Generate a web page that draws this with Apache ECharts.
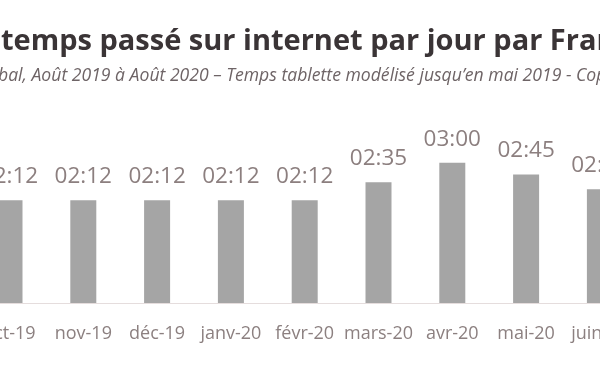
<!DOCTYPE html>
<html>
<head>
<meta charset="utf-8">
<script src="https://cdn.jsdelivr.net/npm/echarts@6/dist/echarts.min.js"></script>
<style>html,body{margin:0;padding:0;background:#fff}#c{width:600px;height:372px}</style>
</head>
<body>
<div id="c"></div>
<script>
// Visible months (the reference is a cropped view of a wider chart)
const categories = ['oct-19','nov-19','déc-19','janv-20','févr-20','mars-20','avr-20','mai-20','juin-20'];
// Daily time online, in minutes
const minutesPerDay = [132, 132, 132, 132, 132, 155, 180, 165, 146];
const titleText = 'temps passé sur internet par jour par Français';
const subtitleText = 'Global, Août 2019 à Août 2020 – Temps tablette modélisé jusqu’en mai 2019 - Copyright Médiamétrie';
const subtitleHiddenPrefix = 'Glo';

function fmt(m){const h=Math.floor(m/60),mm=Math.round(m%60);return String(h).padStart(2,'0')+':'+String(mm).padStart(2,'0');}
const FONT='"Open Sans", "Noto Sans", sans-serif';
const subFont='italic 17.6px '+FONT;
const ctx=document.createElement('canvas').getContext('2d');
ctx.font=subFont;
const prefixW=ctx.measureText(subtitleHiddenPrefix).width;

const chart=echarts.init(document.getElementById('c'),null,{renderer:'canvas'});
chart.setOption({
  animation:false,
  backgroundColor:'#ffffff',
  grid:{left:-27.4,right:-36.8,top:116,bottom:69,outerBoundsMode:'none',containLabel:false},
  xAxis:{type:'category',data:categories,
    axisLine:{lineStyle:{color:'#e5dddd',width:1}},axisTick:{show:false},
    axisLabel:{color:'#8c8080',fontSize:18,fontFamily:FONT,margin:22,interval:0}},
  yAxis:{type:'value',min:0,max:240,show:false,splitLine:{show:false}},
  series:[{type:'bar',data:minutesPerDay,barWidth:26,
    itemStyle:{color:'#a5a5a5'},
    label:{show:true,position:'top',distance:12,color:'#8c7f7f',fontSize:22.5,fontFamily:FONT,
      formatter:p=>fmt(p.value)}}],
  graphic:[
    {type:'text',left:1,top:27,style:{text:titleText,font:'bold 29px '+FONT,fill:'#3a3436'}},
    {type:'text',left:-2-prefixW,top:67,style:{text:subtitleText,font:subFont,fill:'#6e6466'}}
  ]
});
</script>
</body>
</html>
